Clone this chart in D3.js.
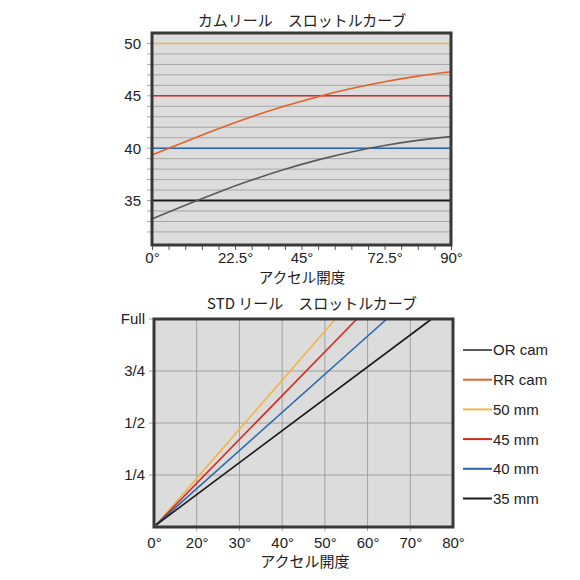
<!DOCTYPE html>
<html>
<head>
<meta charset="utf-8">
<script src="https://cdn.jsdelivr.net/npm/d3@7/dist/d3.min.js"></script>
<style>
  body { margin: 0; background: #fff; }
  text { font-family: "Liberation Sans", "Noto Sans CJK JP", sans-serif; fill: #222; }
  .jp { font-family: "Noto Sans CJK JP", sans-serif; }
  .axis path { display: none; }
  .axis line { stroke: #555; }
</style>
</head>
<body>
<div id="chart"></div>
<script>
  // legend / series
  var seriesNames = ["OR cam", "RR cam", "50 mm", "45 mm", "40 mm", "35 mm"];
  var seriesColors = ["#5a5a5a", "#e2622a", "#f2b447", "#d42a20", "#2766b0", "#1a1a1a"];

  // top chart: cam reel curves (degrees -> mm)
  var camDeg = [0, 10, 20, 30, 40, 50, 60, 70, 80, 90];
  var orCam = [33.25, 34.55, 35.8, 36.95, 37.98, 38.88, 39.64, 40.25, 40.74, 41.1];
  var rrCam = [39.35, 40.62, 41.86, 43.0, 44.02, 44.92, 45.69, 46.34, 46.88, 47.3];
  var stdMm = [50, 45, 40, 35];
  var topLabelVals = [0, 25, 45, 70, 90];
  var topLabelText = ["0°", "22.5°", "45°", "72.5°", "90°"];
  var topYLabels = [35, 40, 45, 50];

  // bottom chart: STD reel, accel degree at full throttle
  var stdFullDeg = [52.5, 57.5, 64.5, 75];
  var botXTicks = [0, 20, 30, 40, 50, 60, 70, 80];
  var botYTicks = [0.25, 0.5, 0.75, 1];
  var botYText = ["1/4", "1/2", "3/4", "Full"];

  var W = 580, H = 580;
  var svg = d3.select("#chart").append("svg").attr("width", W).attr("height", H);

  // ---------- top chart ----------
  var t = { l: 152, r: 451, t: 33, b: 245 };
  var x1 = d3.scaleLinear().domain([0, 90]).range([t.l, t.r]);
  var y1 = d3.scaleLinear().domain([30.75, 51]).range([t.b, t.t]);

  svg.append("rect").attr("x", t.l).attr("y", t.t)
    .attr("width", t.r - t.l).attr("height", t.b - t.t).attr("fill", "#dcdcdc");

  var grid1 = d3.range(32, 51);
  svg.append("g").selectAll("line").data(grid1).enter().append("line")
    .attr("x1", t.l - 5).attr("x2", t.r)
    .attr("y1", function(d) { return y1(d); }).attr("y2", function(d) { return y1(d); })
    .attr("stroke", "#a6a6a6").attr("stroke-width", 1);

  svg.append("g").attr("class", "axis")
    .attr("transform", "translate(0," + t.b + ")")
    .call(d3.axisBottom(x1).tickValues(d3.range(0, 91, 5)).tickSize(5).tickPadding(2)
      .tickFormat(function(d) {
        var i = topLabelVals.indexOf(d);
        return i < 0 ? "" : topLabelText[i];
      }))
    .selectAll("text").style("font-size", "15px").attr("fill", "#222");

  svg.append("g").selectAll("text").data(topYLabels).enter().append("text")
    .attr("x", 141).attr("y", function(d) { return y1(d); })
    .attr("dy", "0.36em").attr("text-anchor", "end")
    .style("font-size", "15px").text(function(d) { return d; });

  // horizontal mm lines
  svg.append("g").selectAll("line").data(stdMm).enter().append("line")
    .attr("x1", t.l).attr("x2", t.r)
    .attr("y1", function(d) { return y1(d); }).attr("y2", function(d) { return y1(d); })
    .attr("stroke", function(d, i) { return seriesColors[i + 2]; })
    .attr("stroke-width", function(d, i) { return i == 3 ? 2.2 : 1.5; });

  var line1 = d3.line().curve(d3.curveNatural)
    .x(function(d, i) { return x1(camDeg[i]); })
    .y(function(d) { return y1(d); });
  svg.append("path").attr("d", line1(orCam)).attr("fill", "none")
    .attr("stroke", seriesColors[0]).attr("stroke-width", 1.6);
  svg.append("path").attr("d", line1(rrCam)).attr("fill", "none")
    .attr("stroke", seriesColors[1]).attr("stroke-width", 1.6);

  svg.append("rect").attr("x", t.l).attr("y", t.t)
    .attr("width", t.r - t.l).attr("height", t.b - t.t)
    .attr("fill", "none").attr("stroke", "#383838").attr("stroke-width", 3);

  svg.append("text").attr("class", "jp").attr("x", 302).attr("y", 26)
    .attr("text-anchor", "middle").style("font-size", "15px")
    .text("カムリール　スロットルカーブ");
  svg.append("text").attr("class", "jp").attr("x", 302).attr("y", 283)
    .attr("text-anchor", "middle").style("font-size", "14.5px")
    .text("アクセル開度");

  // ---------- bottom chart ----------
  var b = { l: 154, r: 453, t: 319, b: 527 };
  var step = (b.r - b.l) / (botXTicks.length - 1);
  var x2 = d3.scaleLinear().domain(botXTicks)
    .range(botXTicks.map(function(d, i) { return b.l + i * step; }));
  var y2 = d3.scaleLinear().domain([0, 1]).range([b.b, b.t]);

  svg.append("rect").attr("x", b.l).attr("y", b.t)
    .attr("width", b.r - b.l).attr("height", b.b - b.t).attr("fill", "#dcdcdc");

  svg.append("g").selectAll("line").data(botXTicks.slice(1, -1)).enter().append("line")
    .attr("x1", function(d) { return x2(d); }).attr("x2", function(d) { return x2(d); })
    .attr("y1", b.t).attr("y2", b.b + 4)
    .attr("stroke", "#a0a0a0").attr("stroke-width", 1);
  svg.append("g").selectAll("line").data(botYTicks.slice(0, -1)).enter().append("line")
    .attr("x1", b.l - 5).attr("x2", b.r)
    .attr("y1", function(d) { return y2(d); }).attr("y2", function(d) { return y2(d); })
    .attr("stroke", "#a0a0a0").attr("stroke-width", 1);
  svg.append("line").attr("x1", b.l - 5).attr("x2", b.l)
    .attr("y1", y2(1)).attr("y2", y2(1)).attr("stroke", "#a0a0a0");

  svg.append("g").attr("class", "axis")
    .attr("transform", "translate(0," + b.b + ")")
    .call(d3.axisBottom(x2).tickValues(botXTicks).tickSize(0).tickPadding(10)
      .tickFormat(function(d) { return d + "°"; }))
    .selectAll("text").style("font-size", "15px").attr("fill", "#222");

  svg.append("g").selectAll("text").data(botYTicks).enter().append("text")
    .attr("x", 145).attr("y", function(d) { return y2(d); })
    .attr("dy", "0.36em").attr("text-anchor", "end")
    .style("font-size", "15px").text(function(d, i) { return botYText[i]; });

  svg.append("g").selectAll("line").data(stdFullDeg).enter().append("line")
    .attr("x1", x2(0) + 2).attr("y1", y2(0) - 2)
    .attr("x2", function(d) { return x2(d); }).attr("y2", y2(1))
    .attr("stroke", function(d, i) { return seriesColors[i + 2]; })
    .attr("stroke-width", 1.6);

  svg.append("rect").attr("x", b.l).attr("y", b.t)
    .attr("width", b.r - b.l).attr("height", b.b - b.t)
    .attr("fill", "none").attr("stroke", "#383838").attr("stroke-width", 3);

  svg.append("text").attr("class", "jp").attr("x", 312).attr("y", 309)
    .attr("text-anchor", "middle").style("font-size", "15px")
    .text("STD リール　スロットルカーブ");
  svg.append("text").attr("class", "jp").attr("x", 305).attr("y", 567)
    .attr("text-anchor", "middle").style("font-size", "15px")
    .text("アクセル開度");

  // legend
  var lg = svg.append("g").selectAll("g").data(seriesNames).enter().append("g")
    .attr("transform", function(d, i) { return "translate(463," + (350 + i * 29.7) + ")"; });
  lg.append("line").attr("x1", 0).attr("x2", 29).attr("y1", 0).attr("y2", 0)
    .attr("stroke", function(d, i) { return seriesColors[i]; }).attr("stroke-width", 2);
  lg.append("text").attr("x", 30).attr("dy", "0.36em")
    .style("font-size", "15px").text(function(d) { return d; });
</script>
</body>
</html>
